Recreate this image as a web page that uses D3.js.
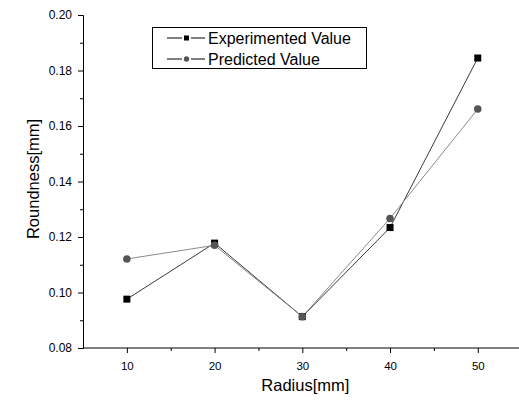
<!DOCTYPE html>
<html>
<head>
<meta charset="utf-8">
<script src="https://cdn.jsdelivr.net/npm/d3@7"></script>
<style>
    body { margin: 0; background: #fff; }
    text { font-family: "Liberation Sans", Arial, sans-serif; fill: #000; }
</style>
</head>
<body>
<svg id="chart"></svg>
<script>
// data
const radius = [10, 20, 30, 40, 50];
const experimented = [0.0976, 0.1178, 0.0913, 0.1234, 0.1845];
const predicted = [0.1121, 0.1170, 0.0913, 0.1267, 0.1661];
const yTicks = [0.08, 0.10, 0.12, 0.14, 0.16, 0.18, 0.20];
const xTicks = [10, 20, 30, 40, 50];

const width = 519, height = 401;
const margin = { top: 15, right: 0, bottom: 53, left: 83 };

const svg = d3.select('#chart')
    .attr('width', width)
    .attr('height', height);

const x = d3.scaleLinear().domain([5, 54.7]).range([margin.left, width - margin.right]);
const y = d3.scaleLinear().domain([0.08, 0.20]).range([height - margin.bottom, margin.top]);

// Axes: major ticks plus minor ticks in between
const xAxis = d3.axisBottom(x).tickValues(xTicks).tickSize(5).tickPadding(9).tickFormat(d3.format('d'));
const xMinor = d3.axisBottom(x).tickValues([15, 25, 35, 45]).tickSize(3).tickFormat('');
const yAxis = d3.axisLeft(y).tickValues(yTicks).tickSize(5).tickPadding(6).tickFormat(d3.format('.2f'));
const yMinor = d3.axisLeft(y).tickValues([0.09, 0.11, 0.13, 0.15, 0.17, 0.19]).tickSize(3).tickFormat('');

function styleAxis(g, size) {
    g.selectAll('path, line').attr('stroke', '#000').attr('stroke-width', 1);
    g.selectAll('text').attr('font-size', size).attr('font-family', '"Liberation Sans", Arial, sans-serif');
}

svg.append('g').attr('transform', `translate(0,${y(0.08)})`).call(xAxis).call(styleAxis, 11.5)
    .select('.domain').attr('d', `M${margin.left},0H${width}`);
svg.append('g').attr('transform', `translate(0,${y(0.08)})`).call(xMinor).call(styleAxis, 11)
    .select('.domain').remove();
svg.append('g').attr('transform', `translate(${margin.left},0)`).call(yAxis).call(styleAxis, 12);
svg.append('g').attr('transform', `translate(${margin.left},0)`).call(yMinor).call(styleAxis, 12)
    .select('.domain').remove();

// axis titles
svg.append('text')
    .attr('x', x(30) + 3)
    .attr('y', 391)
    .attr('text-anchor', 'middle')
    .attr('font-size', 16.5)
    .text('Radius[mm]');

svg.append('text')
    .attr('transform', `translate(39,179) rotate(-90)`)
    .attr('text-anchor', 'middle')
    .attr('font-size', 16.5)
    .text('Roundness[mm]');

// series
const series = [
    { name: 'Experimented Value', values: experimented, line: '#3a3a3a', mark: '#000', shape: 'square' },
    { name: 'Predicted Value', values: predicted, line: '#8a8a8a', mark: '#555', shape: 'circle' }
];

const line = d3.line()
    .x((d, i) => x(radius[i]))
    .y(d => y(d));

// size = side of the square; the circle gets a similar footprint
function drawMarker(g, s, cx, cy, size) {
    if (s.shape === 'square') {
        g.append('rect')
            .attr('x', cx - size / 2).attr('y', cy - size / 2)
            .attr('width', size).attr('height', size)
            .attr('fill', s.mark);
    } else {
        g.append('circle')
            .attr('cx', cx).attr('cy', cy).attr('r', size * 0.54)
            .attr('fill', s.mark);
    }
}

series.forEach(s => {
    svg.append('path')
        .attr('d', line(s.values))
        .attr('fill', 'none')
        .attr('stroke', s.line)
        .attr('stroke-width', 1);
});

series.forEach(s => {
    const g = svg.append('g');
    s.values.forEach((v, i) => drawMarker(g, s, x(radius[i]), y(v), 7));
});

// legend
const legend = svg.append('g');
legend.append('rect')
    .attr('x', 152.5).attr('y', 27.5)
    .attr('width', 214).attr('height', 41)
    .attr('fill', '#fff')
    .attr('stroke', '#000')
    .attr('stroke-width', 1);

series.forEach((s, i) => {
    const ly = 38 + i * 21;
    const g = legend.append('g');
    g.append('line')
        .attr('x1', 167).attr('x2', 182).attr('y1', ly).attr('y2', ly)
        .attr('stroke', '#000');
    g.append('line')
        .attr('x1', 191).attr('x2', 205).attr('y1', ly).attr('y2', ly)
        .attr('stroke', '#000');
    drawMarker(g, s, 186.5, ly, 5);
    g.append('text')
        .attr('x', 208)
        .attr('y', ly + 6)
        .attr('font-size', 16)
        .text(s.name);
});
</script>
</body>
</html>
